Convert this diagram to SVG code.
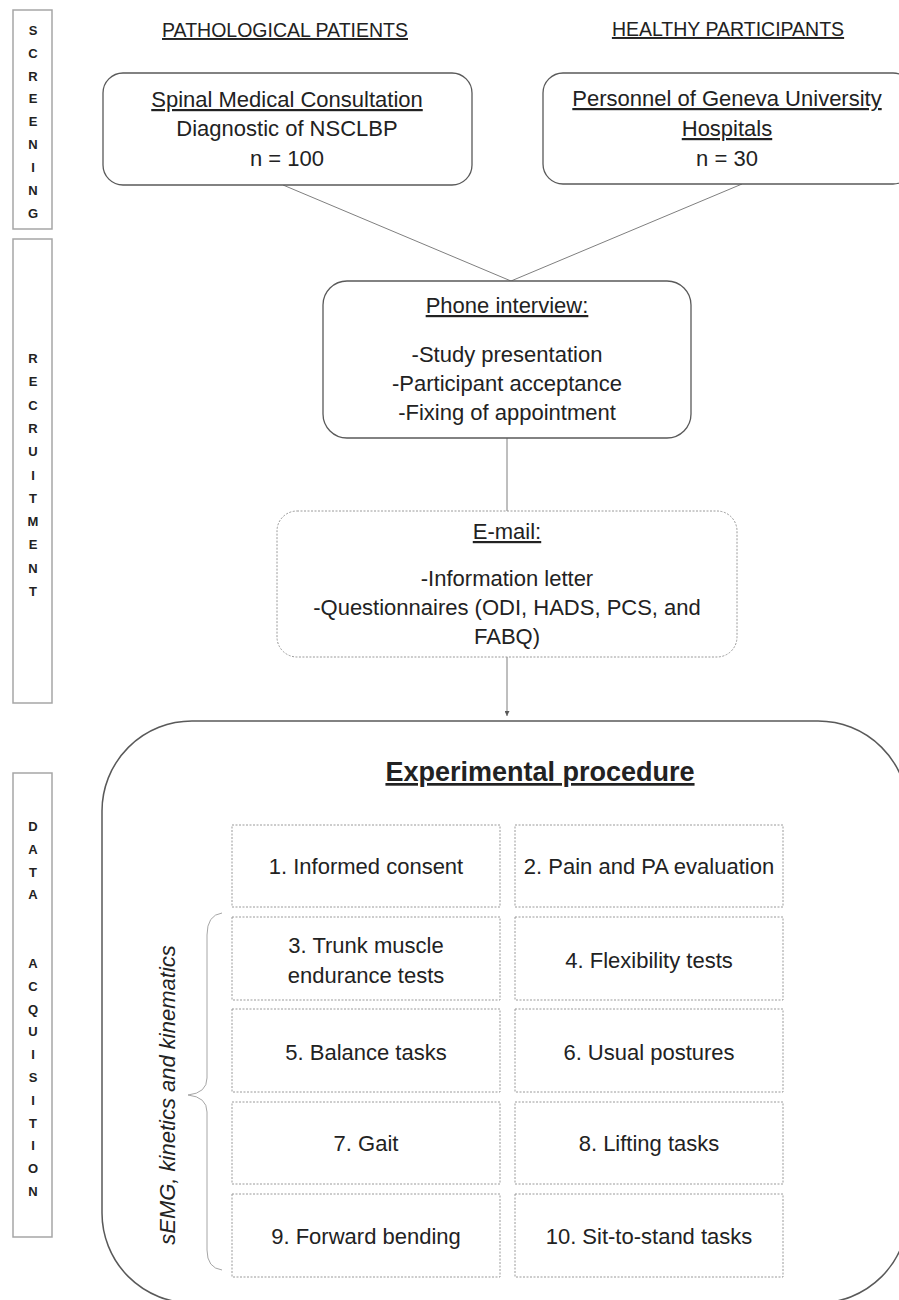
<svg xmlns="http://www.w3.org/2000/svg" width="899" height="1300" viewBox="0 0 899 1300">
<style>
text{font-family:"Liberation Sans",Arial,sans-serif;fill:#222;}
.lbl{font-size:13px;font-weight:bold;text-anchor:middle;}
.hdr{font-size:19.5px;text-anchor:middle;text-decoration:underline;}
.t{font-size:22px;text-anchor:middle;}
.u{text-decoration:underline;}
.side{fill:#fff;stroke:#a6a6a6;stroke-width:1.5;}
.solid{fill:#fff;stroke:#595959;stroke-width:1.3;}
.dot{fill:#fff;stroke:#9a9a9a;stroke-width:1;stroke-dasharray:2,1.5;}
.conn{fill:none;stroke:#7f7f7f;stroke-width:1;}
</style>
<defs>
<marker id="ah" viewBox="0 0 6 6" refX="6" refY="3" markerWidth="5" markerHeight="5" orient="auto">
<path d="M0,0 L6,3 L0,6 z" fill="#595959"/>
</marker>
</defs>
<rect width="899" height="1300" fill="#fff"/>

<g id="phase-screening">
<rect class="side" x="13" y="10" width="39" height="219"/>
<text class="lbl" x="33" y="35">S</text>
<text class="lbl" x="33" y="58">C</text>
<text class="lbl" x="33" y="81">R</text>
<text class="lbl" x="33" y="103">E</text>
<text class="lbl" x="33" y="126">E</text>
<text class="lbl" x="33" y="149">N</text>
<text class="lbl" x="33" y="172">I</text>
<text class="lbl" x="33" y="195">N</text>
<text class="lbl" x="33" y="218">G</text>
</g>

<g id="phase-recruitment">
<rect class="side" x="13" y="239" width="39" height="464"/>
<text class="lbl" x="33" y="363">R</text>
<text class="lbl" x="33" y="386">E</text>
<text class="lbl" x="33" y="410">C</text>
<text class="lbl" x="33" y="433">R</text>
<text class="lbl" x="33" y="456">U</text>
<text class="lbl" x="33" y="480">I</text>
<text class="lbl" x="33" y="503">T</text>
<text class="lbl" x="33" y="526">M</text>
<text class="lbl" x="33" y="549">E</text>
<text class="lbl" x="33" y="573">N</text>
<text class="lbl" x="33" y="596">T</text>
</g>

<g id="phase-data">
<rect class="side" x="13" y="773" width="39" height="464"/>
<text class="lbl" x="33" y="831">D</text>
<text class="lbl" x="33" y="854">A</text>
<text class="lbl" x="33" y="877">T</text>
<text class="lbl" x="33" y="899">A</text>
<text class="lbl" x="33" y="968">A</text>
<text class="lbl" x="33" y="991">C</text>
<text class="lbl" x="33" y="1014">Q</text>
<text class="lbl" x="33" y="1036">U</text>
<text class="lbl" x="33" y="1059">I</text>
<text class="lbl" x="33" y="1082">S</text>
<text class="lbl" x="33" y="1105">I</text>
<text class="lbl" x="33" y="1128">T</text>
<text class="lbl" x="33" y="1150">I</text>
<text class="lbl" x="33" y="1173">O</text>
<text class="lbl" x="33" y="1196">N</text>
</g>

<g id="header-patients"><text class="hdr" x="285" y="37">PATHOLOGICAL PATIENTS</text></g>
<g id="header-healthy"><text class="hdr" x="728" y="36">HEALTHY PARTICIPANTS</text></g>

<g id="connectors">
<line class="conn" x1="283" y1="185" x2="511" y2="281"/>
<line class="conn" x1="742" y1="184" x2="511" y2="281"/>
<line class="conn" x1="507" y1="438" x2="507" y2="511"/>
<line class="conn" x1="507" y1="657" x2="507" y2="716" marker-end="url(#ah)"/>
</g>

<g id="node-spinal">
<rect class="solid" x="103" y="73" width="369" height="112" rx="20"/>
<text class="t u" x="287" y="107">Spinal Medical Consultation</text>
<text class="t" x="287" y="136">Diagnostic of NSCLBP</text>
<text class="t" x="287" y="166">n = 100</text>
</g>

<g id="node-personnel">
<rect class="solid" x="543" y="73" width="370" height="111" rx="20"/>
<text class="t u" x="727" y="106">Personnel of Geneva University</text>
<text class="t u" x="727" y="136">Hospitals</text>
<text class="t" x="727" y="166">n = 30</text>
</g>

<g id="node-phone">
<rect class="solid" x="323" y="281" width="368" height="157" rx="24"/>
<text class="t u" x="507" y="313">Phone interview:</text>
<text class="t" x="507" y="362">-Study presentation</text>
<text class="t" x="507" y="391">-Participant acceptance</text>
<text class="t" x="507" y="420">-Fixing of appointment</text>
</g>

<g id="node-email">
<rect class="dot" x="277" y="511" width="460" height="146" rx="20"/>
<text class="t u" x="507" y="539">E-mail:</text>
<text class="t" x="507" y="586">-Information letter</text>
<text class="t" x="507" y="615">-Questionnaires (ODI, HADS, PCS, and</text>
<text class="t" x="507" y="644">FABQ)</text>
</g>

<g id="node-experimental">
<rect class="solid" x="102" y="721" width="806" height="582" rx="90" style="stroke-width:1.5"/>
<text x="540" y="781" style="font-size:27px;font-weight:bold;text-anchor:middle;text-decoration:underline">Experimental procedure</text>
</g>

<g id="brace">
<path class="conn" d="M222,913 Q207,915 207,935 L207,1078 Q207,1093 188,1095 Q207,1097 207,1112 L207,1250 Q207,1268 222,1270" style="stroke:#a6a6a6"/>
<text transform="translate(175,1095) rotate(-90)" style="font-size:22px;font-style:italic;text-anchor:middle">sEMG, kinetics and kinematics</text>
</g>

<g id="step-1"><rect class="dot" x="232" y="825" width="268" height="82"/><text class="t" x="366" y="874">1. Informed consent</text></g>
<g id="step-2"><rect class="dot" x="515" y="825" width="268" height="82"/><text class="t" x="649" y="874">2. Pain and PA evaluation</text></g>
<g id="step-3"><rect class="dot" x="232" y="917" width="268" height="83"/><text class="t" x="366" y="953">3. Trunk muscle</text><text class="t" x="366" y="983">endurance tests</text></g>
<g id="step-4"><rect class="dot" x="515" y="917" width="268" height="83"/><text class="t" x="649" y="968">4. Flexibility tests</text></g>
<g id="step-5"><rect class="dot" x="232" y="1009" width="268" height="83"/><text class="t" x="366" y="1060">5. Balance tasks</text></g>
<g id="step-6"><rect class="dot" x="515" y="1009" width="268" height="83"/><text class="t" x="649" y="1060">6. Usual postures</text></g>
<g id="step-7"><rect class="dot" x="232" y="1102" width="268" height="82"/><text class="t" x="366" y="1151">7. Gait</text></g>
<g id="step-8"><rect class="dot" x="515" y="1102" width="268" height="82"/><text class="t" x="649" y="1151">8. Lifting tasks</text></g>
<g id="step-9"><rect class="dot" x="232" y="1194" width="268" height="83"/><text class="t" x="366" y="1244">9. Forward bending</text></g>
<g id="step-10"><rect class="dot" x="515" y="1194" width="268" height="83"/><text class="t" x="649" y="1244">10. Sit-to-stand tasks</text></g>
</svg>
